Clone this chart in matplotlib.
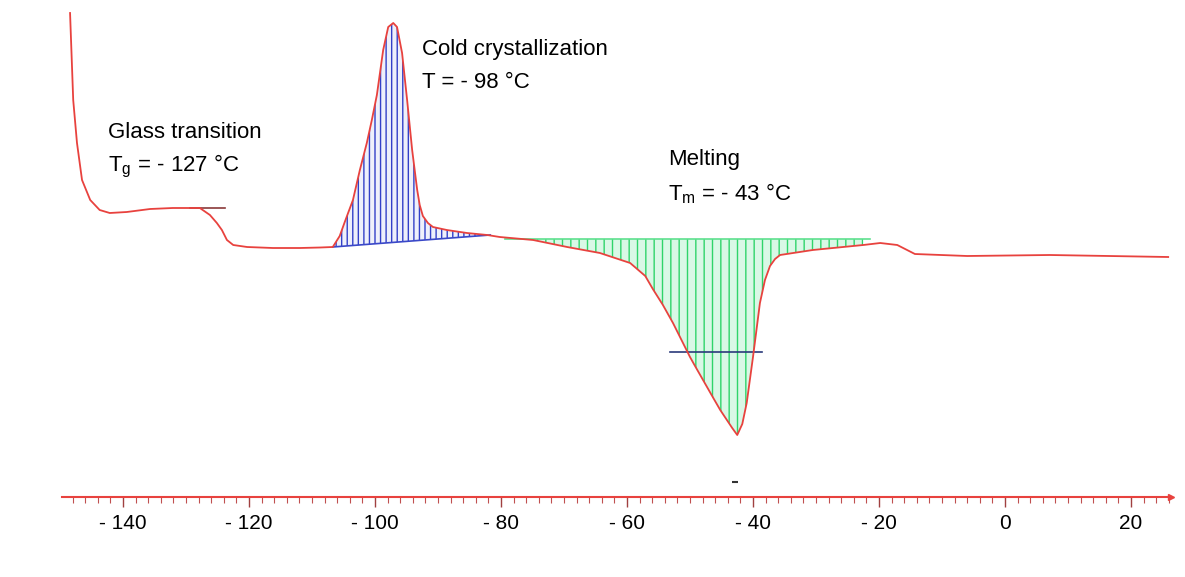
import numpy as np
import matplotlib
matplotlib.use("Agg")
import matplotlib.pyplot as plt

plt.rcParams['font.family'] = ['Liberation Sans', 'DejaVu Sans']
plt.rcParams['mathtext.default'] = 'regular'

# DSC curve: temperature (C) and heat flow (a.u.)
temp = [-148.4, -147.9, -147.3, -146.5, -145.2, -143.7, -142.1, -139.4, -135.7, -132.1,
        -127.8, -126.2, -125.1, -124.3, -123.5, -122.5, -120.3, -116.2, -111.9, -108.7,
        -106.7, -105.6, -104.8, -103.5, -102.4, -101.3, -100.5, -99.7, -98.7, -97.9,
        -97.1, -96.5, -95.7, -94.9, -94.1, -93.3, -92.9, -92.4, -91.6, -90.8,
        -88.6, -85.4, -82.2, -80.2, -74.9, -69.5, -64.3, -59.5, -57.1, -55.9,
        -54.3, -52.7, -50.0, -49.2, -46.3, -45.2, -43.3, -42.5, -41.7, -41.0,
        -40.5, -40.0, -38.9, -38.1, -37.3, -36.5, -35.7, -30.5, -22.5, -19.8,
        -17.1, -14.3, -6.0, 7.1, 25.9]
heat_flow = [23.7, 15.0, 10.7, 7.0, 5.0, 4.0, 3.7, 3.8, 4.1, 4.2,
             4.2, 3.5, 2.7, 2.0, 1.0, 0.5, 0.3, 0.2, 0.2, 0.25,
             0.3, 1.4, 2.8, 5.0, 8.0, 10.7, 13.0, 15.5, 20.0, 22.3,
             22.7, 22.3, 19.7, 15.0, 10.0, 6.0, 4.5, 3.4, 2.7, 2.3,
             2.0, 1.7, 1.5, 1.3, 1.0, 0.3, -0.3, -1.3, -2.6, -3.9,
             -5.5, -7.3, -10.7, -11.6, -14.8, -16.0, -17.8, -18.5, -17.4, -15.3,
             -13.0, -10.7, -5.3, -3.0, -1.6, -0.9, -0.5, 0.0, 0.5, 0.7,
             0.5, -0.4, -0.6, -0.5, -0.7]

# integration baselines
cryst_base_t = [-106.7, -81.7]
cryst_base_hf = [0.3, 1.5]
melt_base_t = [-79.4, -21.4]
melt_base_hf = [1.1, 1.1]
half_height_t = [-53.2, -38.6]
half_height_hf = [-10.2, -10.2]
tg_tangent_t = [-129.4, -123.8]
tg_tangent_hf = [4.2, 4.2]
peak_mark_t = [-42.9]
peak_mark_hf = [-23.2]

tick_values = [-140, -120, -100, -80, -60, -40, -20, 0, 20]
tick_labels = ['- 140', '- 120', '- 100', '- 80', '- 60', '- 40', '- 20', '0', '20']

t = np.array(temp)
hf = np.array(heat_flow)

fig = plt.figure(figsize=(11.85, 5.77), dpi=100)
ax = fig.add_axes([0, 0, 1, 1])
ax.set_xlim(-159.52, 28.57)
ax.set_ylim(-32.7, 25.0)

# cold crystallization area (blue hatch)
m = (t >= cryst_base_t[0]) & (t <= cryst_base_t[1])
base = np.interp(t[m], cryst_base_t, cryst_base_hf)
ax.fill_between(t[m], base, hf[m], facecolor='#eef0fb', edgecolor='#3340c8',
                hatch='|||', linewidth=0, zorder=1)
ax.plot(cryst_base_t, cryst_base_hf, color='#3a48c8', lw=1.2, zorder=2)

# melting area (green hatch)
m = (t >= melt_base_t[0]) & (t <= melt_base_t[1])
ax.fill_between(t[m], melt_base_hf[0], hf[m], where=hf[m] < melt_base_hf[0], interpolate=True,
                facecolor='#d9f8e6', edgecolor='#2fd46a', hatch='||', linewidth=0, zorder=1)
ax.plot(melt_base_t, melt_base_hf, color='#5fe08f', lw=1.2, zorder=2)
ax.plot(half_height_t, half_height_hf, color='#2a3a7a', lw=1.2, zorder=3)
ax.plot(tg_tangent_t, tg_tangent_hf, color='#8a3a3a', lw=1.2, zorder=3)
ax.plot(peak_mark_t, peak_mark_hf, marker='_', color='#333333', markersize=5, mew=1.5, ls='none')

# DSC curve
ax.plot(t, hf, color='#e8423e', lw=1.3, zorder=4)

# annotations
fs = 16
ax.text(-142.4, 11.7, 'Glass transition', fontsize=fs, va='center', ha='left')
ax.text(-142.4, 8.4, 'T$_{g}$ = - 127 °C', fontsize=fs, va='center', ha='left')
ax.text(-92.5, 20.0, 'Cold crystallization', fontsize=fs, va='center', ha='left')
ax.text(-92.5, 16.8, 'T = - 98 °C', fontsize=fs, va='center', ha='left')
ax.text(-53.5, 9.0, 'Melting', fontsize=fs, va='center', ha='left')
ax.text(-53.5, 5.6, 'T$_{m}$ = - 43 °C', fontsize=fs, va='center', ha='left')

# temperature axis
for s in ['top', 'left', 'right']:
    ax.spines[s].set_visible(False)
ax.spines['bottom'].set_position(('data', -24.7))
ax.spines['bottom'].set_bounds(-149.7, 26.3)
ax.spines['bottom'].set_color('#e8423e')
ax.spines['bottom'].set_linewidth(1.5)
ax.set_yticks([])
ax.set_xticks(tick_values)
ax.set_xticklabels(tick_labels, fontsize=15)
ax.set_xticks(np.arange(-148, 27, 2), minor=True)
ax.tick_params(axis='x', which='major', direction='out', length=7, width=1, color='#a04040', pad=5)
ax.tick_params(axis='x', which='minor', direction='out', length=4, width=0.8, color='#c05050')
ax.plot([26.3], [-24.7], marker='>', color='#e8423e', markersize=5, clip_on=False)

fig.savefig('out.png', dpi=100)
